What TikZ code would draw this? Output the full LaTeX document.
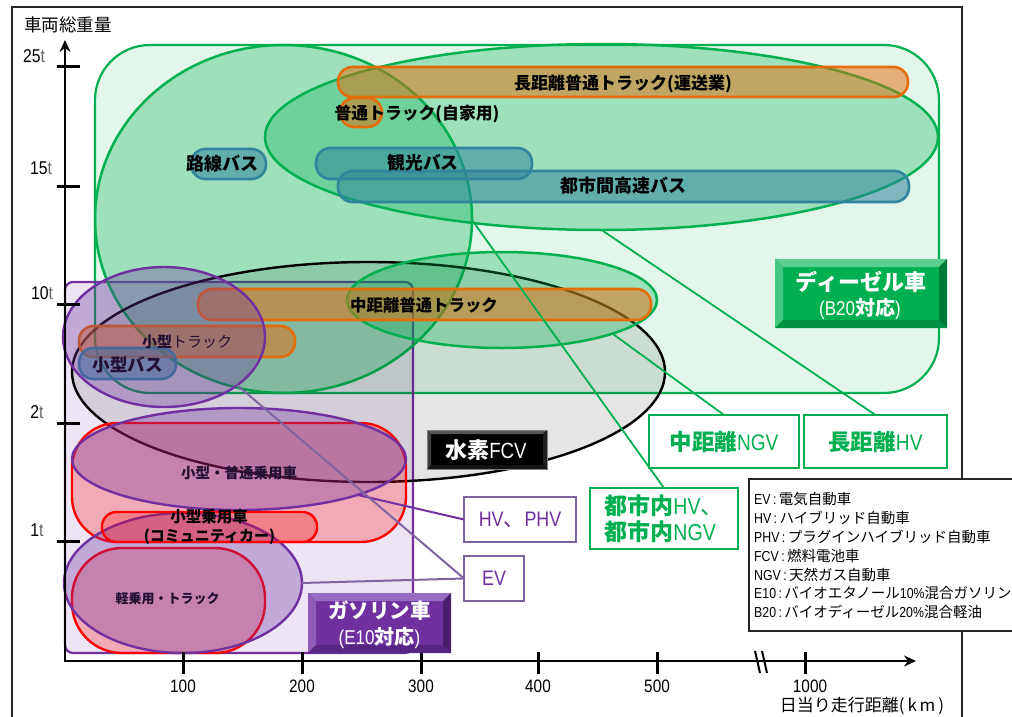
\documentclass[tikz,border=0pt]{standalone}
\usepackage{fontspec}
\setmainfont{Noto Sans CJK JP}
\newfontfamily\lat[FakeStretch=0.85]{Liberation Sans}
\usetikzlibrary{arrows.meta,calc}
\definecolor{gC}{HTML}{00B050}
\definecolor{gLt}{HTML}{5BCF8F}
\definecolor{gDk}{HTML}{007A38}
\definecolor{pC}{HTML}{7030A0}
\definecolor{pLt}{HTML}{9A6BC2}
\definecolor{pDk}{HTML}{4A1E6E}
\definecolor{pL}{HTML}{8064A2}
\definecolor{oC}{HTML}{E46C0A}
\definecolor{bC}{HTML}{31859C}
\definecolor{rC}{HTML}{FF0000}
\definecolor{kLt}{HTML}{555555}
\definecolor{kDk}{HTML}{1F1F1F}
\newcommand\fsz[1]{\fontsize{#1}{#1}\selectfont}
\newcommand\bevelbox[8]{%
  \fill[#5] (#1,#2) rectangle (#3,#4);
  \fill[#6] (#1,#2) -- (#3,#2) -- (#3-#8,#2+#8) -- (#1+#8,#2+#8) -- cycle;
  \fill[#6!75!#5] (#1,#2) -- (#1+#8,#2+#8) -- (#1+#8,#4-#8) -- (#1,#4) -- cycle;
  \fill[#7] (#3,#2) -- (#3,#4) -- (#3-#8,#4-#8) -- (#3-#8,#2+#8) -- cycle;
  \fill[#7!60!#5] (#1,#4) -- (#3,#4) -- (#3-#8,#4-#8) -- (#1+#8,#4-#8) -- cycle;
}
\begin{document}
\begin{tikzpicture}[x=1pt,y=-1pt,
  every node/.style={inner sep=0pt, outer sep=0pt},
  outerframe/.style={draw=black!85, line width=1.5pt},
  gell/.style={draw=gC, line width=2.5pt, fill=gC, fill opacity=0.3},
  opill/.style={draw=oC, line width=2.6pt, fill=oC, fill opacity=0.5, rounded corners=14.5pt},
  bpill/.style={draw=bC, line width=2.6pt, fill=bC, fill opacity=0.55, rounded corners=14.5pt},
  pell/.style={draw=pC, line width=2.4pt, fill=pC, fill opacity=0.33},
  rshape/.style={draw=rC, line width=2.4pt, fill=rC, fill opacity=0.25},
  gline/.style={draw=gC, line width=1.8pt},
  pline/.style={draw=pC, line width=2pt},
  plline/.style={draw=pL, line width=2pt},
  gbox/.style={draw=gC, line width=2pt, fill=white, text=gC},
  pbox/.style={draw=pL, line width=2pt, fill=white, text=pC},
  axisline/.style={line width=2.6pt, draw=black},
  tickmark/.style={line width=3pt, draw=black},
  lab/.style={text=black, font=\bfseries},
]
\useasboundingbox (0,0) rectangle (1012,717);
\fill[white] (0,0) rectangle (1012,717);
% outer frame
\draw[outerframe] (12,740) -- (12,7) -- (962,7) -- (962,740);

% regions
\draw[draw=gC, line width=2.2pt, fill=gC, fill opacity=0.11, rounded corners=55pt] (95,45) rectangle (939,393);
\draw[draw=pC, line width=2.2pt, fill=pC, fill opacity=0.12, rounded corners=8pt] (65,282) rectangle (413,653);

% diesel ellipses
\draw[gell] (283.5,219) ellipse [x radius=188.5pt, y radius=174pt];
\draw[gell] (601.5,137) ellipse [x radius=336.5pt, y radius=93pt];
% FCV ellipse
\draw[draw=black, line width=2.4pt, fill=black, fill opacity=0.1] (368.5,372) ellipse [x radius=296.5pt, y radius=110pt];
% mid distance ellipse
\draw[gell] (502,300) ellipse [x radius=155pt, y radius=48pt];

% trucks
\draw[opill] (338,67) rectangle (908,97);
\draw[opill] (340,98) rectangle (382,127);
\draw[opill] (198,289) rectangle (651,320);
% buses
\draw[bpill] (191,149) rectangle (266,179);
\draw[bpill] (316,148) rectangle (532,179);
\draw[bpill] (338,171) rectangle (909,202);

\node[lab, font=\fsz{17}\bfseries] (tlong) at (623,84) {長距離普通トラック(運送業)};
\node[lab, font=\fsz{16.8}\bfseries] (tpriv) at (417,114) {普通トラック(自家用)};
\node[lab, font=\fsz{18}\bfseries] (trosen) at (222,164) {路線バス};
\node[lab, font=\fsz{17.8}\bfseries] (tkanko) at (423,163) {観光バス};
\node[lab, font=\fsz{18}\bfseries] (tinter) at (623,186) {都市間高速バス};
\node[lab, font=\fsz{16.4}\bfseries] (tmid) at (424,305) {中距離普通トラック};

% small truck / small bus
\draw[opill] (79,326) rectangle (295,357);
\draw[bpill] (79,348) rectangle (176,379);
\node[text=black, font=\fsz{15}] (tsmt) at (187,342) {{\bfseries 小型}トラック};
\node[lab, font=\fsz{17.5}\bfseries] (tsmb) at (127.5,365) {小型バス};
\draw[pell] (164,337) ellipse [x radius=101pt, y radius=70pt];

% passenger cars
\draw[rshape, rounded corners=45pt] (72,423) rectangle (406,542);
\node[lab, font=\fsz{14.5}\bfseries] (tcar) at (239,473) {小型・普通乗用車};
\draw[pell] (239,459) ellipse [x radius=167pt, y radius=51pt];
\draw[rshape, rounded corners=50pt] (72,548) rectangle (265,653);
\node[lab, font=\fsz{13}\bfseries] (tkei) at (167.5,599) {軽乗用・トラック};
\draw[pell] (183,583) ellipse [x radius=119pt, y radius=70pt];
\draw[rshape, rounded corners=14.5pt] (102,512) rectangle (317,542);
\node[lab, font=\fsz{15.5}\bfseries] (tcom1) at (209,517) {小型乗用車};
\node[lab, font=\fsz{15}\bfseries] (tcom2) at (209.5,537) {(コミュニティカー)};

% axes
\draw[axisline, -{Stealth[length=12pt,width=11pt,inset=4pt]}] (65,661) -- (65,40);
\draw[axisline, -{Stealth[length=12pt,width=11pt,inset=4pt]}] (64,661) -- (916,661);
\foreach \yy in {67,186,304,423,541} \draw[tickmark] (57,\yy) -- (80,\yy);
\foreach \xx in {183,302,421,538,657,805} \draw[tickmark] (\xx,652) -- (\xx,674);
\draw[line width=2pt] (755,651) -- (760,673);
\draw[line width=2pt] (762,651) -- (767,673);

\node[text=black, font=\fsz{17.5}] (ylab) at (68,25) {車両総重量};
\node[font=\lat\fsz{18.5}] (y25) at (34,56) {25{\color{black!60}t}};
\node[font=\lat\fsz{18.5}] (y15) at (41,168) {15{\color{black!60}t}};
\node[font=\lat\fsz{18.5}] (y10) at (42,293) {10{\color{black!60}t}};
\node[font=\lat\fsz{18.5}] (y2) at (37,412) {2{\color{black!60}t}};
\node[font=\lat\fsz{18.5}] (y1) at (37,530) {1{\color{black!60}t}};
\node[font=\lat\fsz{18}] (x100) at (183,686) {100};
\node[font=\lat\fsz{18}] (x200) at (302,686) {200};
\node[font=\lat\fsz{18}] (x300) at (421,686) {300};
\node[font=\lat\fsz{18}] (x400) at (538,686) {400};
\node[font=\lat\fsz{18}] (x500) at (657,686) {500};
\node[font=\lat\fsz{18}] (x1000) at (810,686) {1000};
\node[font=\fsz{17}] (xlab) at (862,706) {日当り走行距離(\,k\,m\,)};

% legend
\draw[line width=1.5pt, draw=black!85, fill=white] (749,479) rectangle (1030,631);
\begin{scope}[every node/.style={anchor=base west, inner sep=0pt, font=\fsz{14.5}}]
\node (lg1) at (754,504.5) {{\lat EV\,:\,}電気自動車};
\node (lg2) at (754,523.5) {{\lat HV\,:\,}ハイブリッド自動車};
\node (lg3) at (754,542.5) {{\lat PHV\,:\,}プラグインハイブリッド自動車};
\node (lg4) at (754,561) {{\lat FCV\,:\,}燃料電池車};
\node (lg5) at (754,580) {{\lat NGV\,:\,}天然ガス自動車};
\node (lg6) at (754,598.5) {{\lat E10\,:\,}バイオエタノール{\lat 10\%}混合ガソリン};
\node (lg7) at (754,617.5) {{\lat B20\,:\,}バイオディーゼル{\lat 20\%}混合軽油};
\end{scope}

% connector anchor points on shapes
\coordinate (bigE) at (472,220);
\coordinate (longE) at (603,231);
\coordinate (midE) at (613,334);
\coordinate (e7p) at (237,385);
\coordinate (e8p) at (358,495);
\coordinate (e9p) at (302,583);

% label boxes
\node[gbox, minimum width=150pt, minimum height=53pt, font=\fsz{22.5}] (ngv) at (724,441.5) {{\bfseries 中距離}{\lat NGV}};
\node[gbox, minimum width=143pt, minimum height=53pt, font=\fsz{22.5}] (hvl) at (875.5,441.5) {{\bfseries 長距離}{\lat HV}};
\node[gbox, minimum width=148pt, minimum height=61pt, font=\fsz{23}, align=left] (city) at (664,518.5) {{\bfseries 都市内}{\lat HV}、\\[3pt]{\bfseries 都市内}{\lat NGV}};
\node[pbox, minimum width=112pt, minimum height=45pt, font=\fsz{21}] (hvp) at (520,519.5) {{\lat HV}、{\lat PHV}};
\node[pbox, minimum width=60pt, minimum height=45pt, font=\fsz{21}] (ev) at (494,578.5) {{\lat EV}};

\draw[gline] (bigE) -- (city.north);
\draw[gline] (midE) -- (ngv.north);
\draw[gline] (longE) -- (hvl.north);
\draw[pline] (e8p) -- (hvp.west);
\draw[plline] (e7p) -- (ev.west);
\draw[plline] (e9p) -- (ev.west);

% bevel label boxes
\bevelbox{775}{259}{947}{328}{gC}{gLt}{gDk}{8}
\node[text=white, font=\fsz{22}\bfseries] (dsl) at (861,282) {ディーゼル車};
\node[text=white, font=\fsz{20}] (dslb) at (860,309) {{\lat (B20}{\bfseries 対応}{\lat )}};

\bevelbox{427}{430}{547}{469}{black}{kLt}{kDk}{4}
\draw[black!50, line width=0.8pt] (427,430) rectangle (547,469);
\node[text=white, font=\fsz{22}] (fcv) at (486,450) {{\bfseries 水素}{\lat FCV}};

\bevelbox{308}{593}{451}{653}{pC}{pLt}{pDk}{8}
\node[text=white, font=\fsz{20.5}\bfseries] (gas) at (379.5,611) {ガソリン車};
\node[text=white, font=\fsz{20}] (gasb) at (379.5,638) {{\lat (E10}{\bfseries 対応}{\lat )}};
\end{tikzpicture}
\end{document}
